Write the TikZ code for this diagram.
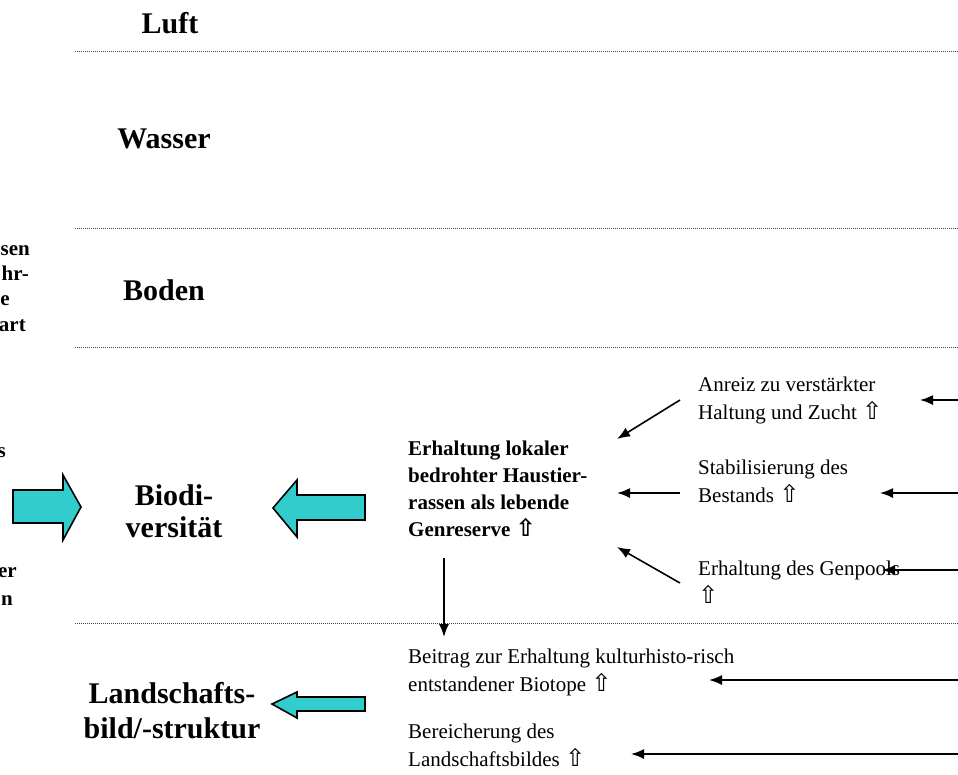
\documentclass[tikz,border=0pt]{standalone}
\usepackage{fontspec}
\setmainfont{Liberation Serif}
\newfontfamily\arrowglyph{DejaVu Sans}
\usetikzlibrary{arrows.meta}
\definecolor{fatcyan}{RGB}{51,204,204}
\newcommand{\upmark}{{\arrowglyph\scalebox{1.15}{⇧}}}

\begin{document}
\begin{tikzpicture}[x=1pt,y=-1pt,
  head/.style={font=\bfseries\fontsize{30}{32}\selectfont, inner sep=0pt, align=center},
  body/.style={font=\fontsize{21}{28}\selectfont, inner sep=0pt, align=left, anchor=west},
  bodybold/.style={font=\bfseries\fontsize{21}{27}\selectfont, inner sep=0pt, align=left, anchor=west},
  frag/.style={font=\bfseries\fontsize{21}{27}\selectfont, inner sep=0pt, anchor=base east},
  sep/.style={line width=0.9pt, black!75, dash pattern=on 0.9pt off 1.1pt},
  link/.style={line width=1.6pt, -{Latex[length=13pt,width=10pt]}},
  fat/.style={fill=fatcyan, draw=black, line width=1.6pt, line join=miter},
]
\useasboundingbox (0,0) rectangle (958,774);
\clip (0,0) rectangle (958,774);

% separators between the compartments
\draw[sep] (75,51) -- (958,51);
\draw[sep] (75,228) -- (958,228);
\draw[sep] (75,347) -- (958,347);
\draw[sep] (75,623) -- (958,623);

% compartment headings
\node[head, anchor=base] (luft) at (170,33) {Luft};
\node[head, anchor=base] (wasser) at (164,148) {Wasser};
\node[head, anchor=base] (boden) at (164,300) {Boden};
\node[head, font=\bfseries\fontsize{30}{32}\selectfont] (biodiv) at (174,511) {Biodi-\\versität};
\node[head, font=\bfseries\fontsize{30}{35}\selectfont] (landschaft) at (172,711) {Landschafts-\\bild/-struktur};

% text running in from the left margin
\node[frag] (f1) at (30,255) {sen};
\node[frag] (f2) at (29,280) {hr-};
\node[frag] (f3) at (10,305) {e};
\node[frag] (f4) at (26,331) {art};
\node[frag] (f5) at (6,457) {s};
\node[frag] (f6) at (17,577) {er};
\node[frag] (f7) at (13,605) {n};

% block arrows
\draw[fat] (13,490) -- (63,490) -- (63,475) -- (81,507) -- (63,540) -- (63,523) -- (13,523) -- cycle;
\draw[fat] (273,508) -- (297,480) -- (297,495) -- (365,495) -- (365,520) -- (297,520) -- (297,537) -- cycle;
\draw[fat] (272,704) -- (297,692) -- (297,697) -- (365,697) -- (365,711) -- (297,711) -- (297,718) -- cycle;

% effect chain
\node[bodybold] (erh) at (408,489) {Erhaltung lokaler\\bedrohter Haustier-\\rassen als lebende\\Genreserve \upmark};
\node[body] (anreiz) at (698,400) {Anreiz zu verstärkter\\Haltung und Zucht \upmark};
\node[body] (stab) at (698,481) {Stabilisierung des\\Bestands \upmark};
\node[body] (gen) at (698,582) {Erhaltung des Genpools\\\upmark};
\node[body] (beitrag) at (408,672) {Beitrag zur Erhaltung kulturhisto-risch\\entstandener Biotope \upmark};
\node[body] (berei) at (408,745) {Bereicherung des\\Landschaftsbildes \upmark};

% inputs entering from the right edge
\coordinate (r1) at (958,400);
\coordinate (r2) at (958,493);
\coordinate (r3) at (958,570);
\coordinate (r4) at (958,680);
\coordinate (r5) at (958,754);

\draw[link] (r1) -- ([xshift=222pt]anreiz.west);
\draw[link] (r2) -- ([xshift=182pt,yshift=-12pt]stab.west);
\draw[link] (r3) -- ([xshift=184pt,yshift=12pt]gen.west);
\draw[link] (r4) -- ([xshift=301pt,yshift=-8pt]beitrag.west);
\draw[link] (r5) -- ([xshift=223pt,yshift=-9pt]berei.west);

\draw[link] ([xshift=-18pt]anreiz.west) -- ([xshift=209pt,yshift=50pt]erh.west);
\draw[link] ([xshift=-18pt,yshift=-12pt]stab.west) -- ([xshift=209pt,yshift=-4pt]erh.west);
\draw[link] ([xshift=-18pt,yshift=-1pt]gen.west) -- ([xshift=209pt,yshift=-58pt]erh.west);
\draw[link] ([xshift=36pt,yshift=-69pt]erh.west) -- ([xshift=36pt,yshift=35pt]beitrag.west);
\end{tikzpicture}
\end{document}
